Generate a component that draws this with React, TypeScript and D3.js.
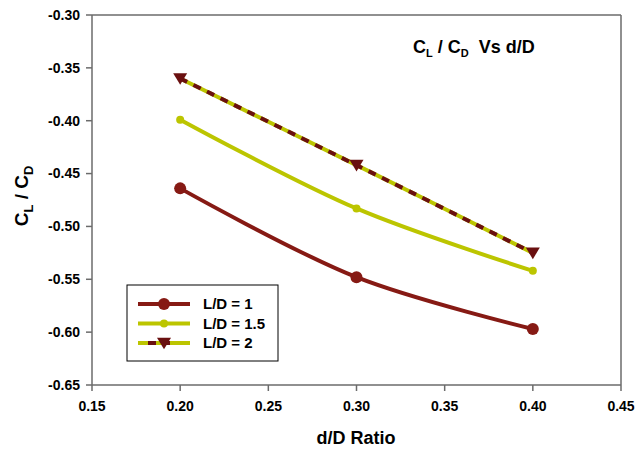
import * as d3 from 'd3';

// d/D ratio values on the x axis
const ratios = [0.2, 0.3, 0.4];
const ld1 = [-0.464, -0.548, -0.597];
const ld15 = [-0.399, -0.483, -0.542];
const ld2 = [-0.36, -0.442, -0.525];

const xTicks = [0.15, 0.2, 0.25, 0.3, 0.35, 0.4, 0.45];
const yTicks = [-0.3, -0.35, -0.4, -0.45, -0.5, -0.55, -0.6, -0.65];
const legendLabels = ['L/D = 1', 'L/D = 1.5', 'L/D = 2'];

const RED = '#861a14';
const YEL = '#bcc500';
const DARK = '#6a1010';
const AXIS = '#6b6b6b';
const FONT = 'Arial, "Liberation Sans", sans-serif';

const W = 638;
const H = 450;
const left = 92;
const right = 621;
const top = 15;
const bottom = 385;

const x = d3.scaleLinear().domain([0.15, 0.45]).range([left, right]);
const y = d3.scaleLinear().domain([-0.65, -0.3]).range([bottom, top]);

const line = d3
  .line<[number, number]>()
  .x(d => x(d[0]))
  .y(d => y(d[1]))
  .curve(d3.curveCatmullRom.alpha(0.5));

const pts = (vals: number[]) => ratios.map((r, i) => [r, vals[i]] as [number, number]);

const triangle = (cx: number, cy: number, s: number) =>
  `M${cx - s},${cy - s * 0.75} L${cx + s},${cy - s * 0.75} L${cx},${cy + s * 0.9} Z`;

export default function App() {
  return (
    <svg width={W} height={H} style={{ display: 'block', position: 'absolute', left: 0, top: 0 }} fontFamily={FONT}>
      <rect width={W} height={H} fill="#fff" />

      {/* frame */}
      <line x1={left} x2={right} y1={top} y2={top} stroke={AXIS} strokeWidth={1.5} />
      <line x1={right} x2={right} y1={top} y2={bottom} stroke={AXIS} strokeWidth={1.5} />
      <line x1={left} x2={left} y1={top} y2={bottom} stroke={AXIS} strokeWidth={1.5} />
      <line x1={left} x2={right} y1={bottom} y2={bottom} stroke={AXIS} strokeWidth={1.5} />

      {/* y axis */}
      {yTicks.map(t => (
        <g key={t}>
          <line x1={left - 6} x2={left} y1={y(t)} y2={y(t)} stroke={AXIS} strokeWidth={1.5} />
          <text x={80} y={y(t)} dy="0.35em" textAnchor="end" fontSize={14} fontWeight="bold">
            {t.toFixed(2)}
          </text>
        </g>
      ))}

      {/* x axis */}
      {xTicks.map(t => (
        <g key={t}>
          <line x1={x(t)} x2={x(t)} y1={bottom} y2={bottom + 6} stroke={AXIS} strokeWidth={1.5} />
          <text x={x(t)} y={411} textAnchor="middle" fontSize={14} fontWeight="bold">
            {t.toFixed(2)}
          </text>
        </g>
      ))}

      <text x={356} y={444} textAnchor="middle" fontSize={18} fontWeight="bold">d/D Ratio</text>

      <text transform="translate(28,196) rotate(-90)" textAnchor="middle" fontSize={19} fontWeight="bold">
        C<tspan fontSize={13} dy={5}>L</tspan>
        <tspan dy={-5}> / C</tspan>
        <tspan fontSize={13} dy={5}>D</tspan>
      </text>

      <text x={413} y={53} fontSize={18} fontWeight="bold">
        C<tspan fontSize={11} dy={4}>L</tspan>
        <tspan dy={-4}> / C</tspan>
        <tspan fontSize={11} dy={4}>D</tspan>
        <tspan dy={-4} xmlSpace="preserve">{'  Vs d/D'}</tspan>
      </text>

      {/* L/D = 1 */}
      <path d={line(pts(ld1)) ?? ''} fill="none" stroke={RED} strokeWidth={4} />
      {pts(ld1).map((p, i) => (
        <circle key={i} cx={x(p[0])} cy={y(p[1])} r={6} fill={RED} />
      ))}

      {/* L/D = 1.5 */}
      <path d={line(pts(ld15)) ?? ''} fill="none" stroke={YEL} strokeWidth={4} />
      {pts(ld15).map((p, i) => (
        <circle key={i} cx={x(p[0])} cy={y(p[1])} r={4} fill={YEL} />
      ))}

      {/* L/D = 2 */}
      <path d={line(pts(ld2)) ?? ''} fill="none" stroke={YEL} strokeWidth={4} />
      <path d={line(pts(ld2)) ?? ''} fill="none" stroke={DARK} strokeWidth={4} strokeDasharray="8,7" />
      {pts(ld2).map((p, i) => (
        <path key={i} d={triangle(x(p[0]), y(p[1]), 7)} fill={DARK} />
      ))}

      {/* legend */}
      <rect x={127} y={285} width={151} height={76} fill="#fff" stroke="#000" strokeWidth={1} />
      {legendLabels.map((lab, i) => {
        const ly = 304 + i * 19.5;
        return (
          <g key={lab}>
            {i === 0 && (
              <>
                <line x1={138} x2={190} y1={ly} y2={ly} stroke={RED} strokeWidth={4} />
                <circle cx={164} cy={ly} r={6} fill={RED} />
              </>
            )}
            {i === 1 && (
              <>
                <line x1={138} x2={190} y1={ly} y2={ly} stroke={YEL} strokeWidth={4} />
                <circle cx={164} cy={ly} r={4} fill={YEL} />
              </>
            )}
            {i === 2 && (
              <>
                <line x1={138} x2={190} y1={ly} y2={ly} stroke={YEL} strokeWidth={4} />
                <line x1={138} x2={190} y1={ly} y2={ly} stroke={DARK} strokeDasharray="0,10,8,6,8,20" strokeWidth={4} />
                <path d={triangle(164, ly, 7)} fill={DARK} />
              </>
            )}
            <text x={203} y={ly} dy="0.35em" fontSize={15} fontWeight="bold">{lab}</text>
          </g>
        );
      })}
    </svg>
  );
}
